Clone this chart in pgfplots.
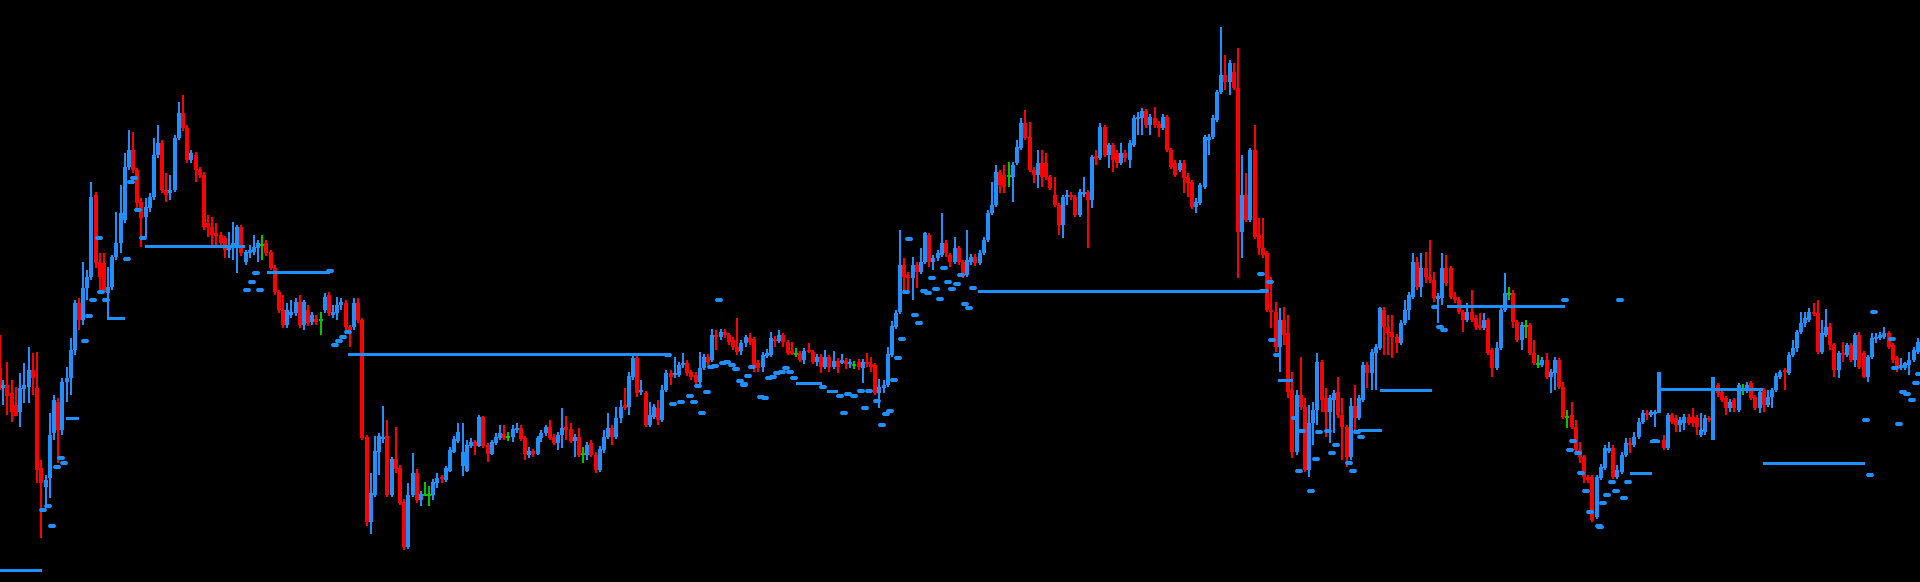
\documentclass[border=0pt]{standalone}
\usepackage{pgfplots}
\usepackage{pgfplotstable}
\pgfplotsset{compat=1.18}
\definecolor{cblue}{RGB}{30,144,255}
\definecolor{cred}{RGB}{255,0,0}
\definecolor{cgreen}{RGB}{0,200,0}

\pgfplotstableread{
x t b h l
3 385 388 380 405
20 388 412 373 427
24 385 389 363 403
29 370 387 347 403
46 480 487 475 505
50 435 478 413 498
54 400 433 395 440
62 382 430 378 435
67 378 382 367 402
71 350 378 338 395
75 303 350 300 355
83 288 320 262 325
87 277 288 270 300
91 197 277 182 280
108 287 293 267 320
112 257 287 255 290
116 243 257 212 260
121 213 243 185 253
125 167 220 153 223
129 150 167 130 170
146 207 217 198 237
150 197 208 193 212
154 155 197 138 200
158 143 155 125 158
170 190 193 175 200
175 138 190 135 192
179 113 138 102 140
191 153 160 150 163
229 245 250 232 258
233 243 247 222 260
237 227 247 225 273
246 252 262 250 265
250 250 253 245 258
254 247 252 235 255
258 243 248 240 262
287 310 325 303 328
291 312 315 300 318
296 302 313 298 316
304 302 325 300 330
312 315 322 312 325
325 297 310 293 313
333 312 315 305 318
337 305 313 297 320
341 302 305 298 310
354 303 327 298 330
371 493 522 473 534
375 451 495 436 497
379 436 452 433 475
383 437 439 406 443
392 459 495 457 497
408 495 547 483 549
413 473 495 453 497
421 494 500 491 506
433 482 495 479 500
437 478 483 473 488
446 468 480 466 482
450 450 471 447 472
454 439 452 436 453
458 432 441 423 443
463 452 466 423 476
467 445 471 440 472
471 442 446 438 448
479 417 446 415 447
492 442 454 440 455
496 437 443 433 445
500 433 438 425 440
513 429 437 425 442
517 428 430 423 433
529 451 455 447 458
538 438 454 436 455
541 433 438 430 442
546 427 433 425 436
558 435 443 432 450
562 428 435 408 448
575 437 441 434 457
587 445 455 442 460
600 449 470 446 472
604 437 450 430 453
608 428 437 413 439
616 418 437 407 439
621 407 418 400 423
629 376 407 372 415
633 358 377 355 380
641 390 392 380 395
650 415 425 402 427
654 407 417 404 419
662 390 420 385 422
666 373 390 370 392
675 373 375 357 378
679 365 375 362 377
683 363 365 353 368
700 368 382 352 385
704 357 368 354 370
712 335 360 329 362
721 332 337 329 340
741 343 351 340 355
746 337 343 335 347
763 355 367 352 372
767 353 356 349 358
771 338 355 332 357
779 335 341 330 343
804 351 360 348 364
817 357 362 354 366
825 357 367 350 369
834 361 367 351 369
842 360 363 354 364
850 362 364 359 368
863 362 368 359 383
879 387 393 379 408
884 385 388 380 393
888 354 385 347 387
892 326 355 321 357
896 313 327 310 329
900 265 312 230 314
913 265 278 257 300
921 262 272 248 274
925 233 262 232 264
933 258 262 255 270
938 253 258 250 261
942 243 255 213 257
955 248 262 237 264
967 260 275 230 277
971 257 262 254 265
980 253 263 250 265
984 240 253 237 255
988 213 240 210 242
992 205 213 182 215
996 172 205 165 207
1013 165 177 162 202
1017 147 163 140 165
1021 123 148 118 150
1038 163 175 150 188
1063 197 225 195 238
1067 195 197 190 205
1080 192 215 189 217
1084 192 194 177 197
1092 157 200 155 208
1100 127 158 123 160
1109 145 155 143 168
1121 153 163 143 165
1130 143 160 140 168
1134 118 145 115 147
1138 117 119 112 135
1142 111 118 108 135
1150 117 125 114 135
1163 117 128 114 130
1180 163 170 160 172
1196 202 207 198 213
1200 185 203 183 205
1205 137 187 135 189
1209 137 140 134 155
1213 118 137 115 139
1217 92 120 90 122
1221 75 92 27 94
1230 63 82 60 95
1242 195 232 155 258
1250 150 220 148 222
1280 320 347 308 372
1297 395 452 390 455
1309 423 470 405 477
1313 410 423 402 445
1317 362 410 353 425
1330 398 412 395 443
1334 393 400 390 433
1351 406 457 398 460
1359 398 418 395 420
1363 365 400 362 402
1372 352 373 349 390
1376 347 353 344 390
1380 308 348 307 350
1401 323 343 320 345
1405 310 323 300 325
1409 295 310 292 320
1413 262 297 253 299
1421 268 287 253 297
1438 296 299 293 323
1442 268 298 253 305
1467 312 320 303 322
1484 320 328 313 330
1497 348 368 342 370
1501 310 348 307 350
1505 293 310 273 312
1522 325 340 322 350
1542 360 365 357 367
1551 372 377 369 393
1555 360 373 357 390
1597 477 517 475 519
1601 467 478 464 480
1605 448 468 445 470
1609 448 451 442 453
1617 470 477 465 479
1622 455 472 452 474
1626 443 455 438 457
1634 437 445 432 447
1639 422 437 418 439
1643 413 422 410 424
1651 412 415 410 417
1655 412 414 410 427
1668 415 448 413 450
1680 420 425 417 432
1684 417 423 414 430
1701 430 435 413 437
1705 418 432 415 435
1730 402 408 399 412
1739 385 410 383 412
1747 385 390 382 393
1760 392 408 390 413
1768 397 405 390 407
1772 390 397 388 408
1776 376 390 373 392
1780 372 377 370 379
1789 355 373 352 375
1793 348 355 340 357
1797 332 348 330 352
1801 323 332 312 334
1805 318 323 312 327
1809 312 320 308 322
1822 333 352 320 354
1826 327 335 309 337
1839 353 370 351 378
1847 345 355 343 357
1855 335 360 333 367
1868 357 377 355 382
1872 338 357 333 359
1876 337 339 333 343
1880 335 338 332 340
1884 333 337 327 339
1901 365 368 358 370
1905 363 368 362 370
1909 360 365 352 375
1914 350 360 347 362
1918 342 352 338 354
}\bluetab

\pgfplotstableread{
x t b h l
0 368 385 335 390
7 385 396 362 415
12 393 412 380 422
16 405 416 387 416
33 370 378 353 395
37 388 470 352 483
41 468 483 460 538
58 402 430 398 463
79 303 320 298 330
96 195 263 192 268
100 262 277 253 293
104 263 292 253 293
133 150 170 132 173
137 170 203 168 212
141 202 218 198 247
162 143 190 140 193
166 190 195 173 202
183 113 128 95 131
187 128 160 125 163
196 155 170 152 182
200 170 175 167 178
204 175 227 172 230
208 223 227 215 237
212 227 235 217 245
216 233 236 223 245
221 235 243 232 246
225 238 250 236 258
241 227 253 225 256
266 243 253 240 256
271 252 268 250 270
275 268 292 265 295
279 292 310 290 313
283 310 325 295 328
300 302 325 295 328
308 310 323 305 326
316 319 322 315 325
329 295 313 292 316
346 303 327 300 330
350 327 330 325 347
358 303 320 298 323
362 320 438 318 440
367 437 522 435 526
387 436 495 420 497
396 459 469 427 473
400 468 503 465 505
404 502 547 499 550
417 473 500 469 503
442 477 479 475 483
475 442 446 440 455
483 417 446 416 448
488 445 454 443 462
504 434 438 425 440
521 428 439 425 441
525 438 454 436 460
533 451 454 449 457
550 427 438 420 440
554 437 443 434 445
566 427 430 416 440
571 429 441 423 443
579 437 455 428 457
591 443 455 440 457
596 455 470 452 473
612 428 437 425 445
625 405 408 388 410
637 358 393 356 397
646 393 425 391 427
658 408 420 400 425
671 373 377 370 385
687 363 373 360 376
691 372 377 370 380
696 375 382 372 387
708 357 362 354 365
716 335 337 330 350
725 332 335 329 338
729 335 342 333 345
733 340 347 337 350
737 347 352 318 355
750 338 342 333 345
754 339 367 337 372
758 363 368 360 372
775 339 341 336 347
783 335 342 333 347
788 342 353 340 355
792 351 354 342 355
800 353 360 351 362
809 350 352 343 353
813 352 362 350 364
821 357 367 354 373
829 357 367 355 372
838 361 367 358 373
846 361 364 358 369
859 362 367 359 370
867 362 364 353 367
871 364 367 357 372
875 365 393 363 395
904 265 277 258 293
908 275 278 272 293
917 265 272 262 288
929 235 262 233 267
946 243 253 240 257
950 255 262 253 267
959 248 262 246 265
963 262 275 260 278
975 257 263 254 266
1000 172 185 170 193
1004 175 187 165 193
1025 123 138 110 140
1030 137 170 122 172
1034 170 175 167 183
1042 163 177 150 187
1046 163 177 153 180
1050 177 188 175 190
1055 195 205 177 207
1059 205 225 203 235
1071 195 197 192 200
1075 197 215 195 217
1088 192 200 190 248
1096 156 159 150 165
1105 127 155 125 157
1113 145 160 143 172
1117 153 163 150 168
1125 153 158 150 162
1146 111 125 109 128
1155 118 125 107 128
1159 124 128 121 137
1167 117 150 115 152
1171 150 167 148 169
1175 163 175 160 177
1184 163 178 160 193
1188 177 183 173 197
1192 182 207 180 209
1225 75 82 55 90
1234 72 88 63 90
1238 88 232 48 278
1246 195 220 173 222
1255 150 237 125 239
1259 235 248 218 255
1263 248 255 218 258
1267 253 310 251 312
1271 310 312 277 328
1276 312 347 302 352
1284 320 335 307 345
1288 333 392 315 398
1292 390 452 372 458
1301 395 407 357 410
1305 407 470 398 472
1322 362 400 360 412
1326 398 412 388 437
1338 392 415 377 418
1342 415 427 398 460
1347 427 457 425 467
1355 406 418 385 433
1367 365 373 362 388
1384 310 327 307 355
1388 327 333 315 355
1392 332 337 315 358
1397 337 343 334 353
1417 262 287 257 290
1426 268 277 252 283
1430 277 280 240 283
1434 280 298 272 302
1446 268 283 255 286
1451 268 297 266 299
1455 297 300 292 303
1459 300 312 297 314
1463 312 320 310 332
1472 312 320 290 322
1476 318 327 315 330
1480 325 328 313 330
1488 320 353 318 355
1492 350 368 348 377
1513 293 322 290 328
1517 322 340 320 342
1530 325 353 323 355
1534 353 363 340 365
1547 360 377 353 379
1559 360 387 358 389
1563 387 417 382 419
1572 415 427 402 429
1576 427 450 420 452
1580 450 457 442 463
1584 457 477 455 483
1588 477 480 475 483
1592 477 520 475 522
1613 448 477 445 479
1630 443 445 438 453
1647 413 415 410 420
1664 440 448 435 450
1672 415 422 413 424
1676 418 425 415 432
1689 417 423 414 425
1693 417 423 408 427
1697 418 427 415 435
1709 418 420 416 422
1718 385 393 383 397
1722 392 400 390 402
1726 398 408 396 415
1734 400 408 398 412
1751 383 398 381 400
1755 397 408 395 410
1764 390 405 388 412
1785 370 372 368 390
1814 312 314 303 316
1818 313 352 300 354
1830 327 345 323 350
1834 345 370 343 377
1843 353 355 342 362
1851 345 360 343 362
1859 335 367 332 369
1864 353 377 351 378
1889 333 347 331 349
1893 345 360 343 363
1897 358 368 356 372
}\redtab

\pgfplotstableread{
x t b h l
262 244 245.5 235 260
321 319 320.5 312 335
425 494 495.5 482 495
429 494 495.5 486 506
508 436 437.5 432 441
583 453 454.5 447 463
796 353 354.5 348 357
854 364 365.5 361 369
1009 175 176.5 162 187
1509 293 294.5 287 300
1526 325 326.5 320 338
1538 363 364.5 355 368
1567 416 417.5 410 428
1743 389 390.5 384 395
}\greentab

\newcommand{\candles}[2]{%
  \addplot[only marks, mark size=0pt, mark options={draw=none, fill=none}, forget plot,
    error bars/.cd, y dir=both, y explicit, error mark=none,
    error bar style={draw=#2, line width=0.6pt}]
    table[x=x, y expr={(\thisrow{h}+\thisrow{l})/2}, y error expr={(\thisrow{l}-\thisrow{h})/2}] {#1};
  \addplot[only marks, mark size=0pt, mark options={draw=none, fill=none}, forget plot,
    error bars/.cd, y dir=both, y explicit, error mark=none,
    error bar style={draw=#2, line width=1.85pt}]
    table[x=x, y expr={(\thisrow{t}+\thisrow{b})/2}, y error expr={(\thisrow{b}-\thisrow{t})/2}] {#1};
}
\newcommand{\lvl}[3]{%
  \addplot[cblue, line width=1.5pt, forget plot] coordinates {(#1,#3) (#2,#3)};
}

\begin{document}
\begin{tikzpicture}
\useasboundingbox (0,0) rectangle (960pt,291pt);
\fill[black] (-5pt,-5pt) rectangle (965pt,296pt);
\begin{axis}[
  at={(0,0)}, anchor=south west,
  scale only axis, width=960pt, height=291pt,
  xmin=0, xmax=1920, ymin=0, ymax=582, y dir=reverse,
  hide axis, clip=true,
]
\candles{\bluetab}{cblue}
\candles{\redtab}{cred}
\candles{\greentab}{cgreen}

\lvl{0}{42}{570}
\lvl{66}{79}{418}
\lvl{145}{245}{247}
\lvl{267}{330}{273}
\lvl{348}{665}{355}
\lvl{107}{125}{319}
\addplot[cblue, line width=0.6pt, forget plot] coordinates {(108,300) (108,319)};
\lvl{796}{822}{383}
\lvl{827}{838}{391}
\lvl{978}{1260}{292}
\lvl{1447}{1565}{307}
\lvl{1380}{1432}{390}
\lvl{1358}{1382}{430}
\lvl{1278}{1293}{380}
\lvl{1630}{1652}{473}
\lvl{1650}{1660}{441}
\lvl{1659}{1763}{389}
\lvl{1763}{1865}{463}
\addplot[cblue, line width=1.85pt, forget plot] coordinates {(1659,372) (1659,413)};
\addplot[cblue, line width=1.85pt, forget plot] coordinates {(1713,377) (1713,440)};

\addplot[only marks, mark=-, mark size=1.1pt, forget plot,
  mark options={draw=cblue, line width=1.7pt, line cap=round}] coordinates {
(43,510) (48,506) (52,526) (57,467) (61,458) (64,463) (85,341) (89,316) (93,300)
(99,238) (101,292) (106,300) (127,259) (131,182) (134,178) (138,210) (143,238)
(247,290) (252,282) (256,273) (260,290) (330,271) (335,345) (339,341) (343,337) (348,332)
(719,300) (668,355) (673,404) (681,402) (690,396) (694,402) (698,386) (702,413) (707,392)
(711,367) (715,366) (723,363) (727,362) (732,365) (736,369) (740,381) (744,385) (748,376)
(752,367) (744,384) (761,397) (765,398) (769,378) (773,377) (777,373) (782,372) (786,368)
(790,372) (794,378) (823,387) (840,396) (844,413) (848,394) (854,396) (861,391) (865,408)
(869,391) (877,401) (882,425) (886,414) (890,411) (894,380) (898,358) (902,339) (906,292)
(909,239) (932,278) (944,268) (948,282) (957,284) (961,275) (973,288) (915,315) (919,323)
(924,291) (928,293) (936,289) (940,299) (952,289) (965,304) (969,308) (1261,274) (1270,282)
(1263,291) (1265,291) (1272,340) (1277,355) (1295,418) (1302,431) (1299,471) (1311,491)
(1316,459) (1319,432) (1328,431) (1332,453) (1336,445) (1349,463) (1353,471) (1357,432)
(1361,437) (1435,307) (1440,327) (1444,330) (1565,300) (1620,300) (1570,450) (1573,441)
(1578,453) (1581,473) (1586,491) (1590,512) (1599,526) (1603,503) (1607,495) (1612,482)
(1616,491) (1624,498) (1628,482) (1655,441) (1600,527) (1874,312) (1892,339) (1895,368)
(1903,392) (1907,394) (1912,400) (1916,383) (1919,374) (1866,420) (1899,424) (1870,475)
};
\end{axis}
\end{tikzpicture}
\end{document}
